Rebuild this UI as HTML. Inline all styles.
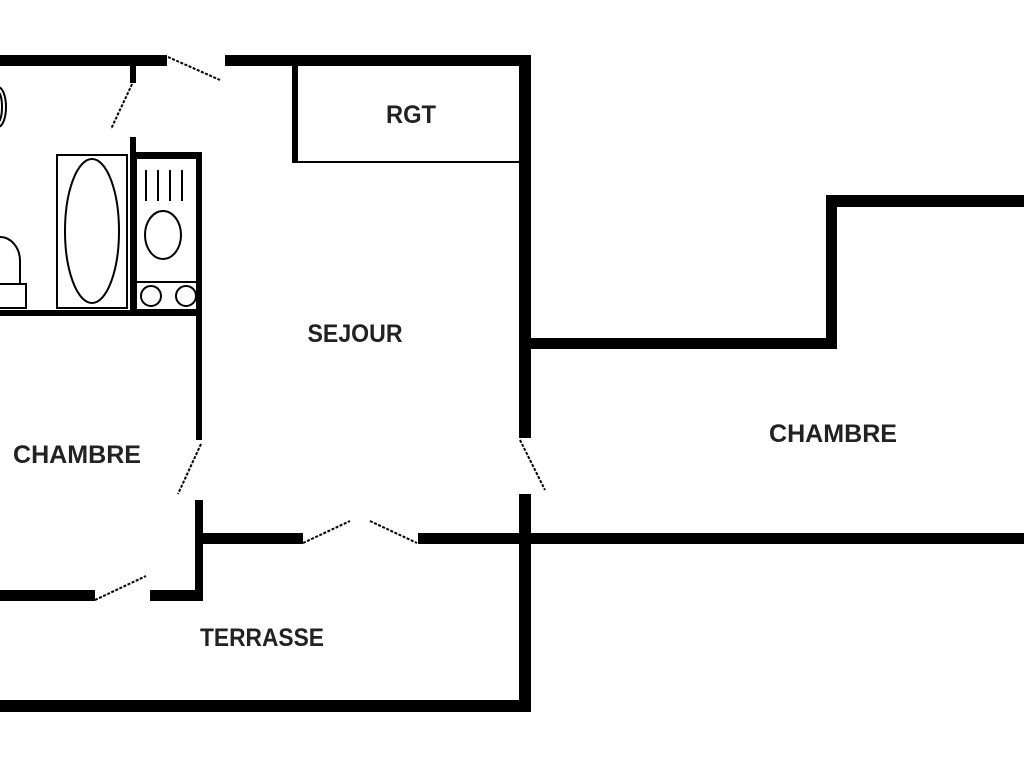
<!DOCTYPE html>
<html><head><meta charset="utf-8"><style>html,body{margin:0;padding:0;background:#fff}svg{display:block}</style></head>
<body>
<svg width="1024" height="768" viewBox="0 0 1024 768" xmlns="http://www.w3.org/2000/svg">
<g fill="#000">
<rect x="0" y="55" width="167" height="11"/>
<rect x="225" y="55" width="306" height="11"/>
<rect x="519" y="55" width="12" height="383"/>
<rect x="519" y="494" width="12" height="218"/>
<rect x="0" y="700" width="531" height="12"/>
<rect x="292" y="66" width="6" height="97"/>
<rect x="292" y="161" width="227" height="2"/>
<rect x="531" y="338" width="306" height="11"/>
<rect x="826" y="195" width="11" height="154"/>
<rect x="826" y="195" width="198" height="12"/>
<rect x="200" y="533" width="103" height="11"/>
<rect x="418" y="533" width="606" height="11"/>
<rect x="130" y="66" width="6" height="17"/>
<rect x="130" y="137" width="6" height="178"/>
<rect x="136" y="152" width="66" height="6"/>
<rect x="196" y="152" width="6" height="288"/>
<rect x="0" y="310" width="202" height="6"/>
<rect x="195" y="500" width="8" height="101"/>
<rect x="0" y="590" width="95" height="11"/>
<rect x="150" y="590" width="53" height="11"/>
</g>
<g stroke="#000" stroke-width="2" stroke-dasharray="3,1.5" fill="none">
<line x1="168" y1="57" x2="220" y2="80"/>
<line x1="134" y1="80" x2="111" y2="129"/>
<line x1="520" y1="440" x2="545" y2="490"/>
<line x1="201" y1="444" x2="178" y2="494"/>
<line x1="303" y1="543" x2="350" y2="521"/>
<line x1="370" y1="521" x2="417" y2="543"/>
<line x1="95" y1="600" x2="146" y2="576"/>
</g>
<g stroke="#000" stroke-width="2" fill="none">
<rect x="57" y="155" width="70" height="153"/>
<ellipse cx="92" cy="231" rx="27" ry="72"/>
<rect x="136" y="158" width="64" height="152"/>
<line x1="136" y1="282" x2="200" y2="282"/>
<line x1="146" y1="170" x2="146" y2="201"/>
<line x1="158" y1="170" x2="158" y2="201"/>
<line x1="170" y1="170" x2="170" y2="201"/>
<line x1="182" y1="170" x2="182" y2="201"/>
<ellipse cx="163" cy="235" rx="18" ry="24"/>
<circle cx="151" cy="296" r="10"/>
<circle cx="186" cy="296" r="10"/>
<path d="M0 237 A20 24 0 0 1 20 261 L20 284"/>
<rect x="-2" y="284" width="28" height="24"/>
<ellipse cx="-2" cy="107" rx="8" ry="20"/>
<ellipse cx="-2" cy="107" rx="4" ry="15"/>
</g>
<g font-family="Liberation Sans, sans-serif" font-weight="bold" font-size="25" fill="#222" text-anchor="middle">
<text x="411" y="123" textLength="50" lengthAdjust="spacingAndGlyphs">RGT</text>
<text x="355" y="342" textLength="95" lengthAdjust="spacingAndGlyphs">SEJOUR</text>
<text x="77" y="463" textLength="128" lengthAdjust="spacingAndGlyphs">CHAMBRE</text>
<text x="833" y="442" textLength="128" lengthAdjust="spacingAndGlyphs">CHAMBRE</text>
<text x="262" y="646" textLength="124" lengthAdjust="spacingAndGlyphs">TERRASSE</text>
</g>
</svg>
</body></html>
